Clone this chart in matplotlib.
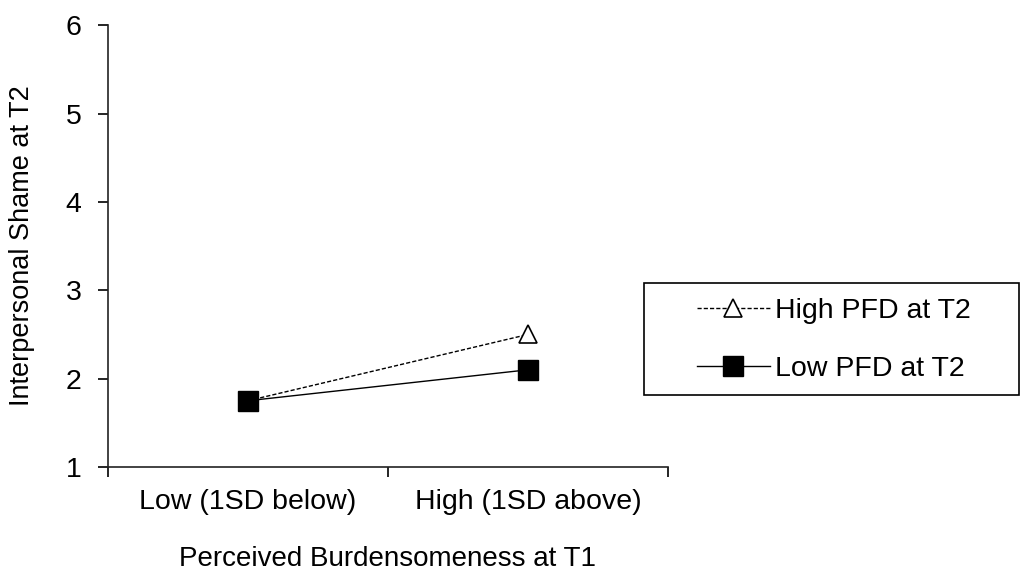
import numpy as np
import matplotlib
matplotlib.use('Agg')
import matplotlib.pyplot as plt
from matplotlib.patches import Rectangle

plt.rcParams['font.family'] = ['Liberation Sans', 'DejaVu Sans']

categories = ['Low (1SD below)', 'High (1SD above)']
high_pfd = [1.75, 2.50]
low_pfd = [1.75, 2.10]
yticks = [1, 2, 3, 4, 5, 6]

fs = 20.5

fig = plt.figure(figsize=(10.21, 5.73), dpi=100)
ax = fig.add_axes([0.1058, 0.185, 0.5484, 0.771])

x = np.arange(len(categories))
ax.plot(x, high_pfd, color='black', linestyle=(0, (3, 1.5)), linewidth=1.0,
        marker='^', markersize=13.5, markerfacecolor='white', markeredgecolor='black',
        markeredgewidth=1.2, label='High PFD at T2')
ax.plot(x, low_pfd, color='black', linestyle='-', linewidth=1.0,
        marker='s', markersize=14.5, markerfacecolor='black', markeredgecolor='black',
        label='Low PFD at T2')

ax.set_xlim(-0.5, 1.5)
ax.set_ylim(1, 6)
ax.set_yticks(yticks)
ax.set_xticks(x)
ax.set_xticklabels(categories)
ax.set_xticks([-0.5, 0.5, 1.5], minor=True)
ax.tick_params(axis='x', which='major', length=0, pad=16, labelsize=fs)
ax.tick_params(axis='x', which='minor', length=7, width=1.2, direction='out')
ax.tick_params(axis='y', length=7, width=1.2, direction='out', labelsize=fs, pad=12)

for s in ['top', 'right']:
    ax.spines[s].set_visible(False)
for s in ['left', 'bottom']:
    ax.spines[s].set_linewidth(1.2)
    ax.spines[s].set_color('#222222')

ax.set_ylabel('Interpersonal Shame at T2', fontsize=19.5, labelpad=22)
ax.set_xlabel('Perceived Burdensomeness at T1', fontsize=20, labelpad=22)

# legend box drawn by hand so the padding can be uneven like the original
fig.add_artist(Rectangle((644 / 1021, 1 - 395 / 573), 375 / 1021, 112 / 573,
                         transform=fig.transFigure, fill=False,
                         edgecolor='black', linewidth=1.2))
leg = fig.legend(loc='center left', bbox_to_anchor=(697 / 1021, 1 - 340 / 573),
                 fontsize=fs, frameon=False, handlelength=2.55, handletextpad=0.18,
                 borderpad=0, labelspacing=1.1, borderaxespad=0)

fig.savefig('out.png', dpi=100)
